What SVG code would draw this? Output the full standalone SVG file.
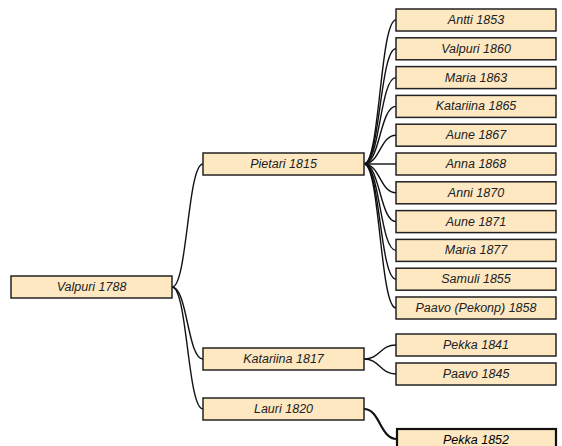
<svg xmlns="http://www.w3.org/2000/svg" width="562" height="446" viewBox="0 0 562 446">
<style>
.box{fill:#fde8c2;stroke:#222;stroke-width:1.5}
.sel{fill:#fde8c2;stroke:#111;stroke-width:2.2}
.t{font-family:"Liberation Sans",Arial,sans-serif;font-style:italic;font-size:12.5px;fill:#222;text-anchor:middle;dominant-baseline:central}
.c{fill:none;stroke:#111;stroke-width:1.4}
.ch{fill:none;stroke:#111;stroke-width:2.2}
</style>
<rect width="562" height="446" fill="#fff"/>
<g id="connectors">
<path class="c" d="M172 287 C187.5 287 187.5 164 203 164"/>
<path class="c" d="M172 287 C187.5 287 187.5 359 203 359"/>
<path class="c" d="M172 287 C187.5 287 187.5 409 203 409"/>
<path class="c" d="M364 164 C380 164 380 20 396 20"/>
<path class="c" d="M364 164 C380 164 380 48.8 396 48.8"/>
<path class="c" d="M364 164 C380 164 380 77.6 396 77.6"/>
<path class="c" d="M364 164 C380 164 380 106.4 396 106.4"/>
<path class="c" d="M364 164 C380 164 380 135.2 396 135.2"/>
<path class="c" d="M364 164 C380 164 380 164 396 164"/>
<path class="c" d="M364 164 C380 164 380 192.8 396 192.8"/>
<path class="c" d="M364 164 C380 164 380 221.6 396 221.6"/>
<path class="c" d="M364 164 C380 164 380 250.4 396 250.4"/>
<path class="c" d="M364 164 C380 164 380 279.2 396 279.2"/>
<path class="c" d="M364 164 C380 164 380 308 396 308"/>
<path class="c" d="M364 359 C380 359 380 345 396 345"/>
<path class="c" d="M364 359 C380 359 380 374 396 374"/>
<path class="ch" d="M364 409 C380 409 380 439 397 439"/>
</g>
<g id="n-valpuri1788"><rect class="box" x="11" y="276" width="161" height="22"/><text class="t" x="91.5" y="287">Valpuri 1788</text></g>
<g id="n-pietari1815"><rect class="box" x="203" y="153" width="161" height="22"/><text class="t" x="283.5" y="164">Pietari 1815</text></g>
<g id="n-katariina1817"><rect class="box" x="203" y="348" width="161" height="22"/><text class="t" x="283.5" y="359">Katariina 1817</text></g>
<g id="n-lauri1820"><rect class="box" x="203" y="398" width="161" height="22"/><text class="t" x="283.5" y="409">Lauri 1820</text></g>
<g id="n-antti1853"><rect class="box" x="396" y="9" width="160" height="22"/><text class="t" x="476" y="20">Antti 1853</text></g>
<g id="n-valpuri1860"><rect class="box" x="396" y="37.8" width="160" height="22"/><text class="t" x="476" y="48.8">Valpuri 1860</text></g>
<g id="n-maria1863"><rect class="box" x="396" y="66.6" width="160" height="22"/><text class="t" x="476" y="77.6">Maria 1863</text></g>
<g id="n-katariina1865"><rect class="box" x="396" y="95.4" width="160" height="22"/><text class="t" x="476" y="106.4">Katariina 1865</text></g>
<g id="n-aune1867"><rect class="box" x="396" y="124.2" width="160" height="22"/><text class="t" x="476" y="135.2">Aune 1867</text></g>
<g id="n-anna1868"><rect class="box" x="396" y="153" width="160" height="22"/><text class="t" x="476" y="164">Anna 1868</text></g>
<g id="n-anni1870"><rect class="box" x="396" y="181.8" width="160" height="22"/><text class="t" x="476" y="192.8">Anni 1870</text></g>
<g id="n-aune1871"><rect class="box" x="396" y="210.6" width="160" height="22"/><text class="t" x="476" y="221.6">Aune 1871</text></g>
<g id="n-maria1877"><rect class="box" x="396" y="239.4" width="160" height="22"/><text class="t" x="476" y="250.4">Maria 1877</text></g>
<g id="n-samuli1855"><rect class="box" x="396" y="268.2" width="160" height="22"/><text class="t" x="476" y="279.2">Samuli 1855</text></g>
<g id="n-paavo1858"><rect class="box" x="396" y="297" width="160" height="22"/><text class="t" x="476" y="308">Paavo (Pekonp) 1858</text></g>
<g id="n-pekka1841"><rect class="box" x="396" y="334" width="160" height="22"/><text class="t" x="476" y="345">Pekka 1841</text></g>
<g id="n-paavo1845"><rect class="box" x="396" y="363" width="160" height="22"/><text class="t" x="476" y="374">Paavo 1845</text></g>
<g id="n-pekka1852"><rect class="sel" x="397" y="429" width="159" height="22"/><text class="t" x="476" y="439.5" style="fill:#000">Pekka 1852</text></g>
</svg>
